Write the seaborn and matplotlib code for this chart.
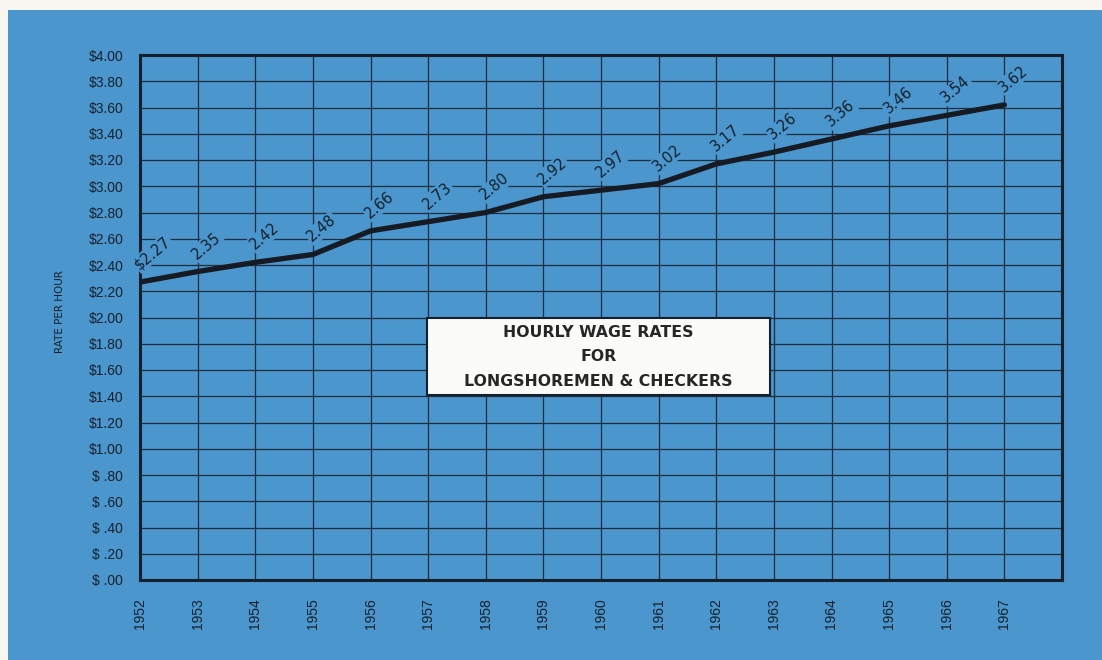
import matplotlib
matplotlib.use("Agg")
import matplotlib.pyplot as plt
from matplotlib.patches import Rectangle
import seaborn as sns
import pandas as pd

# Hourly wage rates, longshoremen & checkers
years = [1952, 1953, 1954, 1955, 1956, 1957, 1958, 1959,
         1960, 1961, 1962, 1963, 1964, 1965, 1966, 1967]
rates = [2.27, 2.35, 2.42, 2.48, 2.66, 2.73, 2.80, 2.92,
         2.97, 3.02, 3.17, 3.26, 3.36, 3.46, 3.54, 3.62]
point_labels = ["$2.27", "2.35", "2.42", "2.48", "2.66", "2.73", "2.80", "2.92",
                "2.97", "3.02", "3.17", "3.26", "3.36", "3.46", "3.54", "3.62"]
y_ticks = [0.0, 0.2, 0.4, 0.6, 0.8, 1.0, 1.2, 1.4, 1.6, 1.8, 2.0,
           2.2, 2.4, 2.6, 2.8, 3.0, 3.2, 3.4, 3.6, 3.8, 4.0]
y_tick_labels = ["$ .00", "$ .20", "$ .40", "$ .60", "$ .80", "$1.00", "$1.20",
                 "$1.40", "$1.60", "$1.80", "$2.00", "$2.20", "$2.40", "$2.60",
                 "$2.80", "$3.00", "$3.20", "$3.40", "$3.60", "$3.80", "$4.00"]
title_lines = ["HOURLY WAGE RATES", "FOR", "LONGSHOREMEN & CHECKERS"]

df = pd.DataFrame({"year": years, "rate": rates})

BLUE = "#4a96cd"
PAPER = "#f7f6f0"
INK = "#16202c"
GRID = "#1f2d3c"

fig = plt.figure(figsize=(11.02, 6.6), dpi=100, facecolor=BLUE)
# paper margin along the top and left edges
fig.patches.append(Rectangle((0, 1 - 10 / 660), 1, 10 / 660,
                             transform=fig.transFigure, facecolor=PAPER,
                             edgecolor="none"))
fig.patches.append(Rectangle((0, 0), 8 / 1102, 1,
                             transform=fig.transFigure, facecolor=PAPER,
                             edgecolor="none"))

ax = fig.add_axes([140 / 1102, 80 / 660, 922 / 1102, 525 / 660])
ax.set_facecolor(BLUE)

sns.lineplot(data=df, x="year", y="rate", ax=ax, color="#161a22", linewidth=3.8,
             solid_capstyle="round", solid_joinstyle="round", zorder=4)

ax.set_xlim(1952, 1968)
ax.set_ylim(0, 4.0)
ax.set_xticks(years)
ax.set_xticklabels([str(y) for y in years], rotation=90,
                   fontsize=10, color=INK, family="Liberation Sans")
ax.set_yticks(y_ticks)
ax.set_yticklabels(y_tick_labels, fontsize=10, color=INK,
                   family="Liberation Sans")
ax.tick_params(axis="y", length=0, pad=12)
ax.tick_params(axis="x", length=0, pad=13)
ax.set_xlabel("")
ax.set_ylabel("")

ax.grid(True, color=GRID, linewidth=0.9, zorder=1)
ax.set_axisbelow(True)
for s in ax.spines.values():
    s.set_color(INK)
    s.set_linewidth(2.2)

# value labels along the line
for yr, rt, lab in zip(years, rates, point_labels):
    ax.annotate(lab, xy=(yr, rt), xytext=(1, 7), textcoords="offset points",
                rotation=40, rotation_mode="anchor", ha="left", va="bottom",
                fontsize=10.5, color=INK, family="DejaVu Sans",
                bbox=dict(boxstyle="square,pad=0.08", facecolor=BLUE,
                          edgecolor="none"), zorder=3)

# title panel
ax.add_patch(Rectangle((0.311, 0.352), 0.372, 0.147, transform=ax.transAxes,
                       facecolor="#fbfbf7", edgecolor=INK, linewidth=1.5,
                       zorder=5))
for i, line in enumerate(title_lines):
    ax.text(0.497, 0.471 - i * 0.046, line, transform=ax.transAxes,
            ha="center", va="center", fontsize=11.3, fontweight="bold",
            color="#262626", family="DejaVu Sans", zorder=6)

fig.text(60 / 1102, 1 - 312 / 660, "RATE PER HOUR", rotation=90,
         ha="center", va="center", fontsize=7.5, color=INK,
         family="DejaVu Sans")

fig.savefig("out.png", dpi=100, facecolor=fig.get_facecolor())
